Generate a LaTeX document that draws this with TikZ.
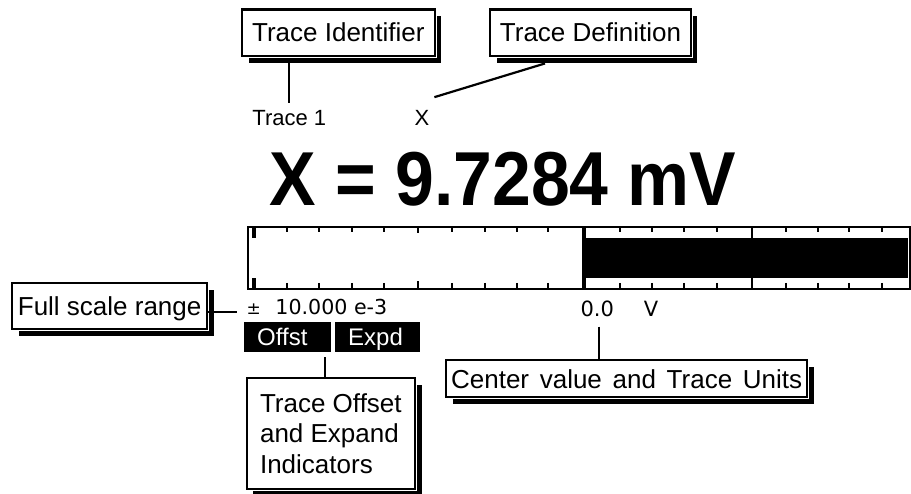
\documentclass[tikz,border=0pt]{standalone}
\usepackage{fontspec}
\usepackage{graphicx}
\setmainfont{Liberation Sans}
\newfontfamily\dvfont{DejaVu Sans}
\usetikzlibrary{shadows,calc}
\begin{document}
\begin{tikzpicture}[x=1pt,y=-1pt,
  calloutbase/.style={drop shadow={shadow xshift=6.5pt,shadow yshift=-7pt,fill=black,opacity=1},
     preaction={draw=white,line width=4.2pt}, draw=black, line width=2.3pt, fill=white,
     inner sep=0pt, font=\fontsize{26}{30.5}\selectfont},
  callout/.style={calloutbase, text height=18.6pt, text depth=0pt},
  conn/.style={line width=2.2pt},
  lbl/.style={inner sep=0pt, font=\fontsize{22}{22}\selectfont},
  ind/.style={fill=black, text=white, inner sep=0pt, inner xsep=13.7pt, align=left,
     minimum height=30pt, font=\fontsize{24}{24}\selectfont, text height=17.2pt,
     text depth=0pt, anchor=north west},
  tick/.style={line width=2.2pt},
  thicktick/.style={line width=4.3pt},
]
\useasboundingbox (0,0) rectangle (911,494);

% callout boxes
\node[callout, minimum width=192.7pt, minimum height=46.3pt] (tid) at (338.35,32.65) {Trace Identifier};
\node[callout, minimum width=200.4pt, minimum height=46.3pt] (tdef) at (590.5,32.65) {Trace Definition};
\node[callout, minimum width=195.3pt, minimum height=46.3pt] (fsr) at (109.65,305.85) {Full scale range};
\node[calloutbase, align=left, minimum width=168.3pt, minimum height=110.7pt] (toe) at (330.85,433.65) {Trace Offset\\and Expand\\Indicators};
\node[callout, minimum width=361.3pt, minimum height=37pt] (cv) at (626.65,378.8) {\spaceskip=10.7pt\relax Center value and Trace Units};

% display labels
\node[lbl, anchor=base west] (t1) at (252.2,125.7) {Trace 1};
\node[lbl, anchor=base west] (xl) at (414.5,125.7) {X};
\node[inner sep=0pt, anchor=base] (big) at (503,205.7) {\resizebox{467pt}{53.4pt}{\fontsize{70}{70}\selectfont\bfseries X = 9.7284 mV}};
\node[inner sep=0pt, anchor=base west, font=\dvfont\fontsize{20.6}{20.6}\selectfont] (fs) at (246.5,315) {{\fontsize{17}{17}\selectfont ±}\hspace{14.5pt}10.000 e-3};
\node[inner sep=0pt, anchor=base west, font=\dvfont\fontsize{21}{21}\selectfont] (cvl) at (580.3,316.7) {0.0\hspace{30pt}V};
\node[ind, text width=60pt] (offst) at (243.3,321.7) {Offst};
\node[ind, text width=58pt] (expd) at (334.3,321.7) {Expd};

% bar graph
\fill (584,237.7) rectangle (908.3,278.3);
\draw[line width=2.3pt] (247.7,227) rectangle (910,289);
\foreach \x in {286.7,319.3,351.7,384,451.7,485,516.7,548.3,620,651.7,684.3,716.7,786,817.7,849.3,881.7}
  {\draw[tick] (\x,227) -- (\x,232) (\x,283) -- (\x,289);}
\draw[tick] (418.3,227) -- (418.3,233.5) (418.3,281.5) -- (418.3,289);
\draw[tick] (751.7,227) -- (751.7,289);
\draw[thicktick] (253.8,227) -- (253.8,237.7) (253.8,278.3) -- (253.8,289);
\draw[thicktick] (584,227) -- (584,289);

% connectors
\coordinate (tidfoot) at ($(tid.south -| t1.north)+(0,6.5)$);
\draw[conn] (tidfoot) -- ([yshift=7pt]t1.north);
\coordinate (xtip) at ([shift={(4.8pt,13.2pt)}]xl.north east);
\coordinate (tdfoot) at ($(tdef.south)+(-45.5,6.5)$);
\draw[conn] (xtip) -- (tdfoot);
\coordinate (fsend) at ($(fs.base west)+(-9.2,-3.3)$);
\draw[conn] (fsr.east |- fsend) -- (fsend);
\coordinate (ofs) at ($(offst.south east)+(-6.3,5.3)$);
\draw[conn] (ofs) -- (ofs |- toe.north);
\coordinate (cvs) at ($(cvl.base west)+(19,10)$);
\draw[conn] (cvs) -- (cvs |- cv.north);
\end{tikzpicture}
\end{document}
